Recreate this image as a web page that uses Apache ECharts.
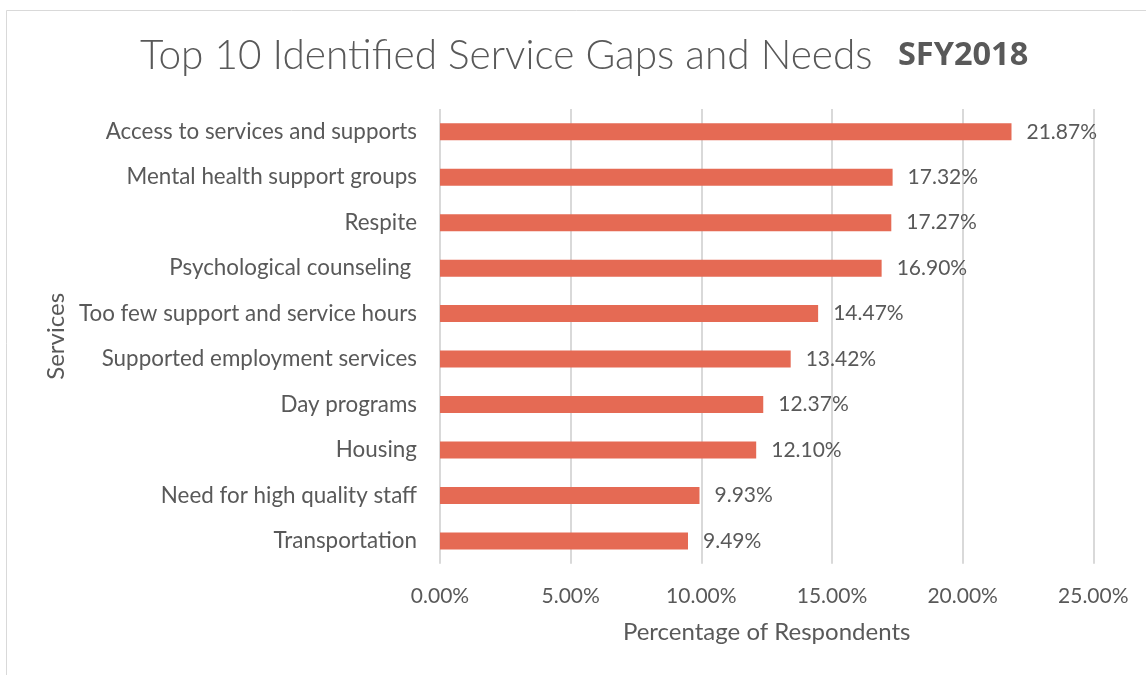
<!DOCTYPE html>
<html>
<head>
<meta charset="utf-8">
<style>
  html, body { margin: 0; padding: 0; background: #ffffff; }
  #chart { width: 1146px; height: 675px; }
</style>
<script src="https://cdn.jsdelivr.net/npm/echarts@6/dist/echarts.min.js"></script>
</head>
<body>
<div id="chart"></div>
<script>
// Service categories, top to bottom
const categories = [
  'Access to services and supports',
  'Mental health support groups',
  'Respite',
  'Psychological counseling ',
  'Too few support and service hours',
  'Supported employment services',
  'Day programs',
  'Housing',
  'Need for high quality staff',
  'Transportation'
];
// Share of respondents naming each gap (%)
const percentages = [21.87, 17.32, 17.27, 16.90, 14.47, 13.42, 12.37, 12.10, 9.93, 9.49];
// Horizontal axis ticks (%)
const xTicks = [0, 5, 10, 15, 20, 25];

const textColor = '#595959';
const font = 'Lato, "Open Sans", sans-serif';

const chart = echarts.init(document.getElementById('chart'), null, { renderer: 'canvas' });

chart.setOption({
  backgroundColor: '#ffffff',
  animation: false,
  graphic: [{
    type: 'rect',
    shape: { x: 6.5, y: 10.5, width: 1300, height: 800 },
    style: { fill: 'none', stroke: '#d9d9d9', lineWidth: 1 },
    silent: true
  }],
  title: {
    text: '{a|Top 10 Identified Service Gaps and Needs}{b|   SFY2018}',
    left: 135,
    top: 26,
    textStyle: {
      rich: {
        a: { fontFamily: font, fontWeight: 300, fontSize: 40.6, lineHeight: 50, color: textColor },
        b: { fontFamily: '"Open Sans", sans-serif', fontWeight: 'bold', fontSize: 32.5, lineHeight: 50, color: textColor }
      }
    }
  },
  grid: { left: 440, right: 52.7, top: 109, bottom: 111.3, containLabel: false },
  xAxis: {
    type: 'value',
    min: xTicks[0],
    max: xTicks[xTicks.length - 1],
    interval: xTicks[1] - xTicks[0],
    name: 'Percentage of Respondents',
    nameLocation: 'middle',
    nameGap: 57,
    nameTextStyle: { fontFamily: font, fontSize: 24, color: textColor },
    axisLine: { show: false },
    axisTick: { show: false },
    axisLabel: {
      margin: 22,
      fontFamily: font,
      fontSize: 21,
      color: textColor,
      formatter: v => v.toFixed(2) + '%'
    },
    splitLine: { show: true, lineStyle: { color: '#d9d9d9', width: 2 } }
  },
  yAxis: {
    type: 'category',
    data: categories,
    inverse: true,
    name: 'Services',
    nameLocation: 'middle',
    nameGap: 370,
    nameRotate: 90,
    nameTextStyle: { fontFamily: font, fontSize: 24, color: textColor },
    axisLine: { show: false },
    axisTick: { show: false },
    axisLabel: {
      margin: 23,
      fontFamily: font,
      fontSize: 22.4,
      color: textColor
    },
    splitLine: { show: false }
  },
  series: [{
    type: 'bar',
    data: percentages,
    barWidth: 17,
    itemStyle: { color: '#e56a54' },
    label: {
      show: true,
      position: 'right',
      distance: 15,
      fontFamily: font,
      fontSize: 21,
      color: textColor,
      formatter: p => p.value.toFixed(2) + '%'
    }
  }]
});
</script>
</body>
</html>
